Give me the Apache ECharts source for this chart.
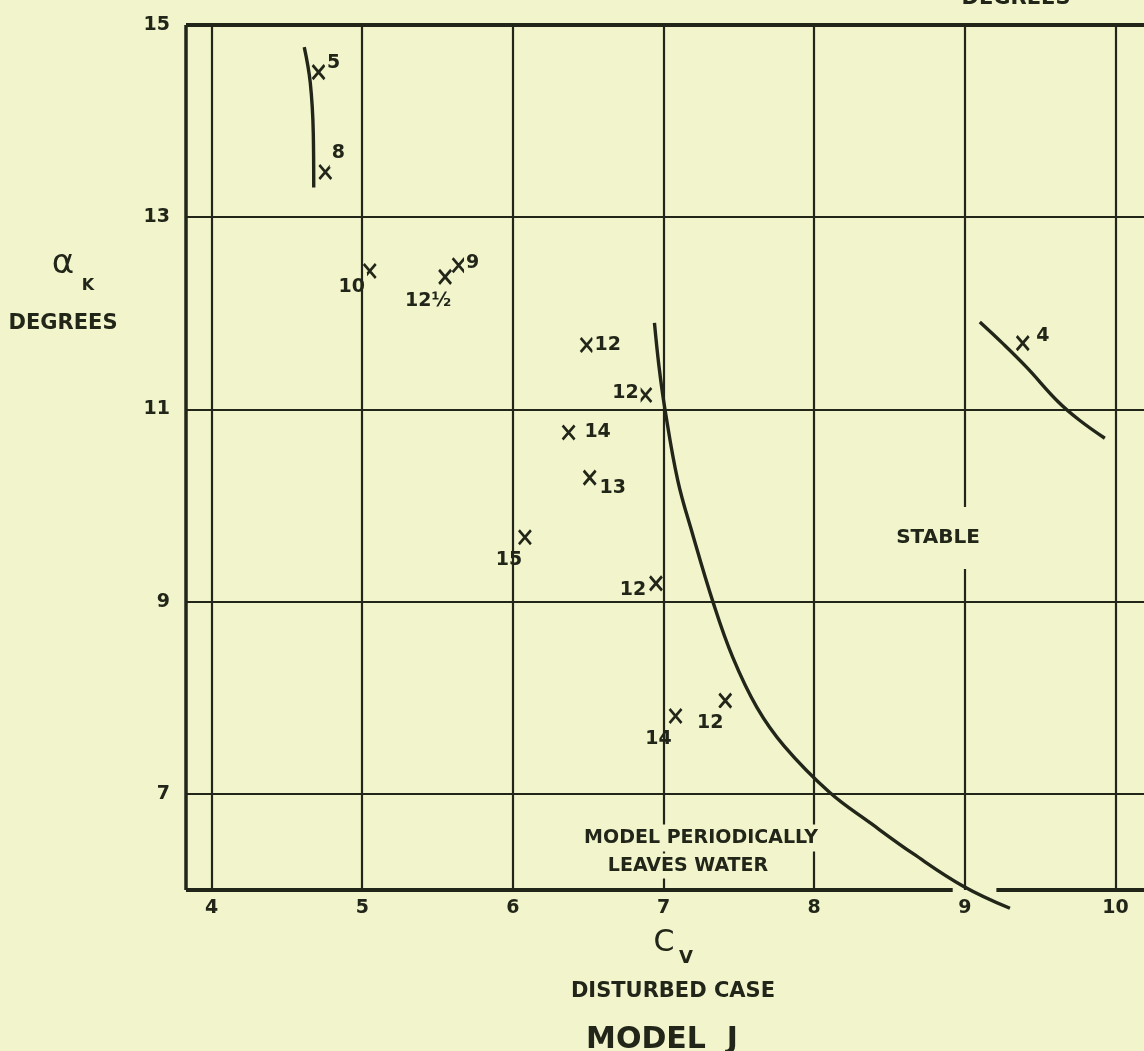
<!DOCTYPE html>
<html>
<head>
<meta charset="utf-8">
<script src="https://cdn.jsdelivr.net/npm/echarts@6/dist/echarts.min.js"></script>
<style>
html,body{margin:0;padding:0;background:#f2f4cc;}
#chart{width:1144px;height:1051px;}
</style>
</head>
<body>
<div id="chart"></div>
<script>
// ---- data ----
const xTicks = [4, 5, 6, 7, 8, 9, 10];
const yTicks = [7, 9, 11, 13, 15];

const pointCv    = [4.71, 4.755, 5.05, 5.55, 5.64, 6.49, 6.88, 6.37, 6.51, 6.08, 6.95, 7.08, 7.41, 9.385];
const pointAlpha = [14.51, 13.47, 12.44, 12.38, 12.50, 11.67, 11.15, 10.76, 10.29, 9.67, 9.19, 7.81, 7.97, 11.69];
const pointLabels = ['5', '8', '10', '12½', '9', '12', '12', '14', '13', '15', '12', '14', '12', '4'];

const leftCurveCv    = [4.615, 4.655, 4.675, 4.678];
const leftCurveAlpha = [14.77, 14.40, 13.875, 13.31];

const mainCurveCv    = [6.94, 6.97, 7.01, 7.095, 7.19, 7.33, 7.46, 7.62, 7.80, 8.10, 8.38, 8.66, 8.99, 9.30];
const mainCurveAlpha = [11.90, 11.45, 11.0, 10.26, 9.72, 8.99, 8.42, 7.90, 7.50, 7.02, 6.69, 6.375, 6.04, 5.81];

const rightCurveCv    = [9.10, 9.25, 9.41, 9.62, 9.76, 9.93];
const rightCurveAlpha = [11.91, 11.69, 11.44, 11.08, 10.89, 10.70];

const xMin = 3.83, xMax = 10.19, yMin = 6, yMax = 15;
const bottomGapCv = [8.92, 9.21];

// ---- layout / style (kept apart from the data) ----
const labelOffsets = [[15,-9],[13,-19],[-18,16],[-17,24],[14,-2],[21,0],[-20,-2],[29,0],[23,10],[-16,23],[-23,7],[-17,23],[-15,22],[20,-7]];
const INK = '#222619';
const PAPER = '#f2f4cc';
const FONT = 'DejaVu Sans';

const zip = (xs, ys) => xs.map((x, i) => [x, ys[i]]);

const chart = echarts.init(document.getElementById('chart'), null, {renderer: 'canvas'});

const gridLineStyle = {color: INK, width: 2.2, type: 'solid'};
const borderStyle = {color: INK, width: 4, type: 'solid'};
const gridMarks = [];
xTicks.forEach(v => gridMarks.push({xAxis: v, lineStyle: gridLineStyle}));
yTicks.filter(v => v < yMax).forEach(v => gridMarks.push({yAxis: v, lineStyle: gridLineStyle}));
gridMarks.push({yAxis: yMax, lineStyle: borderStyle});
gridMarks.push({xAxis: xMin, lineStyle: {color: INK, width: 3.5, type: 'solid'}});
gridMarks.push([{coord: [xMin, yMin], lineStyle: borderStyle}, {coord: [bottomGapCv[0], yMin]}]);
gridMarks.push([{coord: [bottomGapCv[1], yMin], lineStyle: borderStyle}, {coord: [xMax, yMin]}]);

const curveStyle = {color: INK, width: 3.4};

const option = {
  backgroundColor: PAPER,
  animation: false,
  grid: {left: 186, top: 25, right: 0, bottom: 1051 - 890, containLabel: false},
  xAxis: {
    type: 'value', min: xMin, max: xMax,
    axisLine: {show: false}, axisTick: {show: false}, splitLine: {show: false},
    axisLabel: {customValues: xTicks, margin: 9, color: INK, fontFamily: FONT, fontWeight: 'bold', fontSize: 19}
  },
  yAxis: {
    type: 'value', min: yMin, max: yMax,
    axisLine: {show: false}, axisTick: {show: false}, splitLine: {show: false},
    axisLabel: {customValues: yTicks, margin: 16, color: INK, fontFamily: FONT, fontWeight: 'bold', fontSize: 19}
  },
  series: [
    {
      name: 'grid', type: 'line', z: 1, clip: false, silent: true,
      data: [[xMin, yMin]], showSymbol: false, symbol: 'none', lineStyle: {width: 0},
      markLine: {silent: true, symbol: ['none', 'none'], label: {show: false}, animation: false, data: gridMarks}
    },
    {
      name: 'left', type: 'line', z: 3, smooth: 0.4, symbol: 'none', clip: false,
      lineStyle: curveStyle, data: zip(leftCurveCv, leftCurveAlpha)
    },
    {
      name: 'main', type: 'line', z: 3, smooth: 0.4, symbol: 'none', clip: false,
      lineStyle: curveStyle, data: zip(mainCurveCv, mainCurveAlpha)
    },
    {
      name: 'right', type: 'line', z: 3, smooth: 0.4, symbol: 'none', clip: false,
      lineStyle: curveStyle, data: zip(rightCurveCv, rightCurveAlpha)
    },
    {
      name: 'points', type: 'scatter', z: 4,
      symbol: 'path://M0,0L10,12M10,0L0,12', symbolSize: [12, 14],
      itemStyle: {color: 'rgba(0,0,0,0)', borderColor: INK, borderWidth: 2.8, opacity: 1},
      label: {
        show: true, position: 'inside',
        formatter: p => pointLabels[p.dataIndex],
        color: INK, fontFamily: FONT, fontWeight: 'bold', fontSize: 19, opacity: 1,
        backgroundColor: PAPER, padding: [5, 2]
      },
      data: pointCv.map((x, i) => ({value: [x, pointAlpha[i]], label: {offset: labelOffsets[i]}}))
    }
  ],
  graphic: [
    {type: 'text', x: 63, y: 264, z: 100, style: {text: 'α', font: '34px ' + FONT, fill: INK, align: 'center', verticalAlign: 'middle'}},
    {type: 'text', x: 88, y: 286, z: 100, style: {text: 'K', font: 'bold 16px ' + FONT, fill: INK, align: 'center', verticalAlign: 'middle'}},
    {type: 'text', x: 63, y: 324, z: 100, style: {text: 'DEGREES', font: 'bold 21px ' + FONT, fill: INK, align: 'center', verticalAlign: 'middle'}},
    {type: 'text', x: 1016, y: 9, z: 100, style: {text: 'DEGREES', font: 'bold 21px ' + FONT, fill: INK, align: 'center', verticalAlign: 'bottom'}},
    {type: 'text', x: 664, y: 943, z: 100, style: {text: 'C', font: '30px ' + FONT, fill: INK, align: 'center', verticalAlign: 'middle'}},
    {type: 'text', x: 686, y: 958, z: 100, style: {text: 'V', font: 'bold 18px ' + FONT, fill: INK, align: 'center', verticalAlign: 'middle'}},
    {type: 'text', x: 673, y: 992, z: 100, style: {text: 'DISTURBED CASE', font: 'bold 21px ' + FONT, fill: INK, align: 'center', verticalAlign: 'middle'}},
    {type: 'text', x: 662, y: 1040, z: 100, style: {text: 'MODEL  J', font: 'bold 30px ' + FONT, fill: INK, align: 'center', verticalAlign: 'middle'}},
    {type: 'text', x: 938, y: 538, z: 100, style: {text: 'STABLE', font: 'bold 20px ' + FONT, fill: INK, align: 'center', verticalAlign: 'middle', backgroundColor: PAPER, padding: [18, 4, 24, 4]}},
    {type: 'text', x: 701, y: 838, z: 100, style: {text: 'MODEL PERIODICALLY', font: 'bold 19px ' + FONT, fill: INK, align: 'center', verticalAlign: 'middle', backgroundColor: PAPER, padding: [6, 4, 2, 4]}},
    {type: 'text', x: 688, y: 866, z: 100, style: {text: 'LEAVES WATER', font: 'bold 19px ' + FONT, fill: INK, align: 'center', verticalAlign: 'middle', backgroundColor: PAPER, padding: [2, 4, 4, 4]}}
  ]
};
chart.setOption(option);
</script>
</body>
</html>
